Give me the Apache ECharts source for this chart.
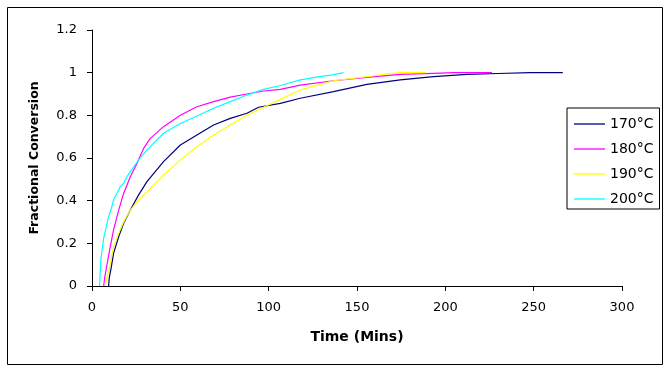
<!DOCTYPE html>
<html>
<head>
<meta charset="utf-8">
<script src="https://cdn.jsdelivr.net/npm/echarts@6/dist/echarts.min.js"></script>
<style>
  html, body { margin: 0; padding: 0; background: #fff; }
</style>
</head>
<body>
<div id="Charts" style="width: 670px;height: 370px;"></div>
<script>
// 170°C
const t170 = [9.4, 9.8, 10.8, 12.2, 15.1, 17.9, 21.7, 26.4, 31.1, 40.5, 50, 59.4, 68.8, 78.3, 87.7, 94.3, 106.6, 117.9, 136.7, 155.6, 174.5, 193.3, 212.2, 230, 248, 266.5]
const v170 = [0, 0.04, 0.083, 0.153, 0.231, 0.294, 0.356, 0.427, 0.489, 0.583, 0.661, 0.708, 0.755, 0.786, 0.81, 0.838, 0.856, 0.88, 0.911, 0.945, 0.966, 0.981, 0.992, 0.996, 1.0, 1.0]
// 180°C
const t180 = [6.6, 7.2, 8.1, 10, 12.2, 15.1, 17.9, 21.7, 25.5, 29.2, 33, 40.5, 50, 59.4, 68.8, 78.3, 87.7, 97.1, 106.6, 117.9, 136.7, 155.6, 174.5, 193.3, 205, 226.4]
const v180 = [0, 0.04, 0.083, 0.169, 0.263, 0.356, 0.434, 0.512, 0.575, 0.645, 0.692, 0.747, 0.80, 0.84, 0.864, 0.885, 0.90, 0.914, 0.922, 0.942, 0.962, 0.978, 0.992, 0.997, 1.0, 1.0]
// 190°C
const t190 = [7.5, 8.5, 10, 12.2, 15.1, 17.9, 21.7, 26.4, 31.1, 40.5, 50, 59.4, 68.8, 78.3, 87.7, 97.1, 106.6, 117.9, 136.7, 155.6, 165, 174.5, 189]
const v190 = [0, 0.04, 0.09, 0.184, 0.247, 0.30, 0.356, 0.403, 0.442, 0.52, 0.59, 0.653, 0.708, 0.755, 0.80, 0.838, 0.875, 0.919, 0.962, 0.981, 0.992, 1.0, 1.0]
// 200°C
const t200 = [4.3, 4.6, 5.1, 6.6, 8.1, 9.4, 10.7, 12.2, 14.1, 16.0, 17.9, 19.8, 21.7, 23.6, 26.4, 31.1, 40.5, 50, 59.4, 68.8, 78.3, 87.7, 97.1, 106.6, 117.9, 128, 136, 142.4]
const v200 = [0, 0.06, 0.13, 0.223, 0.278, 0.325, 0.356, 0.403, 0.434, 0.466, 0.481, 0.513, 0.536, 0.559, 0.591, 0.638, 0.716, 0.762, 0.797, 0.833, 0.864, 0.895, 0.922, 0.94, 0.966, 0.98, 0.99, 1.0]

const seriesNames = ['170°C', '180°C', '190°C', '200°C']
const seriesColors = ['#000080', '#FF00FF', '#FFFF00', '#00FFFF']
const seriesT = [t170, t180, t190, t200]
const seriesV = [v170, v180, v190, v200]

const zip = (ts, vs) => ts.map((t, i) => [t, vs[i]])

let chart = echarts.init(document.getElementById('Charts'), null, {renderer: 'canvas'})
let option = {
  animation: false,
  backgroundColor: '#fff',
  graphic: [{
    type: 'rect',
    shape: {x: 7.5, y: 7.5, width: 655, height: 357},
    style: {fill: 'none', stroke: '#000', lineWidth: 1},
    silent: true
  }],
  grid: {left: 92, top: 30, width: 530, height: 256, containLabel: false},
  legend: {
    orient: 'vertical',
    left: 567,
    top: 108,
    padding: [9, 6, 3, 7],
    icon: 'rect',
    itemWidth: 31,
    itemHeight: 1.3,
    itemGap: 11,
    itemStyle: {borderWidth: 0},
    borderColor: '#000',
    borderWidth: 1,
    backgroundColor: '#fff',
    textStyle: {fontFamily: 'DejaVu Sans', fontSize: 14, color: '#000'},
    data: seriesNames
  },
  xAxis: {
    type: 'value',
    min: 0,
    max: 300,
    interval: 50,
    name: 'Time (Mins)',
    nameLocation: 'middle',
    nameGap: 44,
    nameTextStyle: {fontFamily: 'DejaVu Sans', fontWeight: 'bold', fontSize: 14, color: '#000'},
    splitLine: {show: false},
    axisLine: {lineStyle: {color: '#000', width: 1}},
    axisTick: {show: true, length: 5, lineStyle: {color: '#000'}},
    axisLabel: {fontFamily: 'DejaVu Sans', fontSize: 13, color: '#000', margin: 15}
  },
  yAxis: {
    type: 'value',
    min: 0,
    max: 1.2,
    interval: 0.2,
    name: 'Fractional Conversion',
    nameLocation: 'middle',
    nameGap: 51,
    nameRotate: 90,
    nameTextStyle: {fontFamily: 'DejaVu Sans', fontWeight: 'bold', fontSize: 12.5, color: '#000'},
    splitLine: {show: false},
    axisLine: {show: true, lineStyle: {color: '#000', width: 1}},
    axisTick: {show: true, length: 5, lineStyle: {color: '#000'}},
    axisLabel: {fontFamily: 'DejaVu Sans', fontSize: 13, color: '#000', margin: 15}
  },
  series: seriesNames.map((name, i) => ({
    name: name,
    type: 'line',
    symbol: 'none',
    data: zip(seriesT[i], seriesV[i]),
    color: seriesColors[i],
    lineStyle: {color: seriesColors[i], width: 1.2}
  }))
}
chart.setOption(option)
</script>
</body>
</html>
